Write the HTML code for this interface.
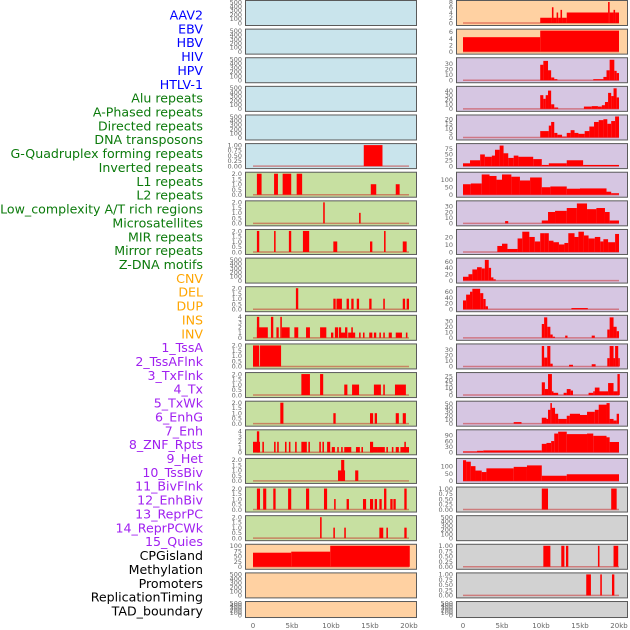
<!DOCTYPE html>
<html><head><meta charset="utf-8"><style>
html,body{margin:0;padding:0;background:#fff;width:630px;height:630px;overflow:hidden}
svg{display:block}
</style></head><body>
<svg id="chart" width="630" height="630" xmlns="http://www.w3.org/2000/svg"></svg>
<script>
const trackLabels = ["AAV2","EBV","HBV","HIV","HPV","HTLV-1","Alu repeats","A-Phased repeats","Directed repeats","DNA transposons","G-Quadruplex forming repeats","Inverted repeats","L1 repeats","L2 repeats","Low_complexity A/T rich regions","Microsatellites","MIR repeats","Mirror repeats","Z-DNA motifs","CNV","DEL","DUP","INS","INV","1_TssA","2_TssAFlnk","3_TxFlnk","4_Tx","5_TxWk","6_EnhG","7_Enh","8_ZNF_Rpts","9_Het","10_TssBiv","11_BivFlnk","12_EnhBiv","13_ReprPC","14_ReprPCWk","15_Quies","CPGisland","Methylation","Promoters","ReplicationTiming","TAD_boundary"];
const labelGroups = [0,0,0,0,0,0,1,1,1,1,1,1,1,1,1,1,1,1,1,2,2,2,2,2,3,3,3,3,3,3,3,3,3,3,3,3,3,3,3,4,4,4,4,4];
const xTickValues = [0,5,10,15,20];
const xTickLabels = ["0","5kb","10kb","15kb","20kb"];
const E = [0,100,200,300,400,500];
const leftTicks = [E,E,E,E,E,[0,0.25,0.5,0.75,1],[0,0.5,1,1.5,2],[0,0.5,1,1.5,2],[0,0.5,1,1.5,2],E,[0,0.5,1,1.5,2],[0,1,2,3,4],[0,0.5,1,1.5,2],[0,0.5,1,1.5,2],[0,0.5,1,1.5,2],[0,1,2,3,4],[0,0.5,1,1.5,2],[0,0.5,1,1.5,2],[0,0.5,1,1.5,2],[0,25,50,75,100],E,E];
const rightTicks = [[0,2,4,6,8],[0,2,4,6],[0,10,20,30],[0,10,20,30,40],[0,5,10,15,20],[0,25,50,75],[0,50,100],[0,10,20,30],[0,10,20],[0,20,40,60],[0,20,40,60],[0,10,20,30],[0,10,20,30],[0,5,10,15,20,25],[0,10,20,30,40,50],[0,30,60,90],[0,50,100],[0,0.25,0.5,0.75,1],E,[0,0.25,0.5,0.75,1],[0,0.25,0.5,0.75,1],E];
const leftMax = [500,500,500,500,500,1,2,2,2,500,2,4,2,2,2,4,2,2,2,100,500,500];
const rightMax = [8,6.4,38,46,23,90,140,37,28,66,72,38,38,28,53,112,142,1,500,1,1,500];
const leftSegs = [[],[],[],[],[],
[[14.2,16.6,1]],
[[0.5,1.1,2],[2.7,3.2,2],[3.8,4.9,2],[5.6,6.3,2],[15.1,15.8,1],[18.3,18.8,1]],
[[9.0,9.2,2],[13.6,13.8,1]],
[[0.5,0.8,2],[2.7,2.9,2],[4.6,4.9,2],[6.4,7.2,2],[10.3,10.8,1],[15.0,15.3,1],[16.8,17.0,2],[19.2,19.7,1]],
[],
[[5.5,5.8,2],[10.3,10.6,1],[10.7,11.4,1],[12.0,12.3,1],[12.6,12.9,1],[13.3,13.6,1],[14.9,15.2,1],[16.7,16.9,1],[19.2,19.5,1],[19.7,20.0,1]],
[[0.5,1.9,2],[0.5,0.8,4],[2.3,2.6,4],[3.0,3.3,2],[3.5,3.7,4],[3.7,4.7,2],[5.3,5.8,2],[6.8,7.3,2],[8.6,9.4,2],[10.0,10.3,1],[10.5,10.9,2],[11.0,11.3,2],[11.2,12.1,1],[11.8,12.1,2],[12.2,13.1,1],[12.6,12.8,2],[13.6,13.8,1],[14.1,14.3,1],[14.9,15.3,1],[15.5,15.8,1],[16.2,16.4,1],[16.7,16.9,1],[17.4,17.8,1],[18.3,19.1,1],[19.6,19.8,1]],
[[0,0.8,2],[0.9,3.6,2]],
[[6.2,7.3,2],[8.6,9.0,2],[11.7,12.1,1],[12.7,13.6,1],[15.5,16.4,1],[16.7,16.9,1],[18.2,19.6,1]],
[[3.5,3.9,2],[10.3,10.6,1],[15.0,15.4,1],[15.6,15.9,1],[18.3,18.7,1],[19.2,19.6,1]],
[[0,0.9,2],[0.5,0.8,4],[1.2,1.4,2],[2.7,2.9,2],[3.1,3.3,2],[4.1,4.3,2],[4.6,4.8,2],[5.4,5.6,2],[6.2,6.9,2],[7.1,7.3,2],[8.5,8.7,2],[8.9,9.1,2],[9.5,9.9,2],[10.1,10.5,1],[10.8,11.0,1],[11.3,11.5,1],[11.7,12.6,1],[13.2,13.7,1],[13.9,14.1,1],[15.0,15.4,2],[15.0,15.9,1],[15.9,16.9,1],[17.1,17.3,1],[17.8,18.0,1],[18.3,18.7,1],[18.9,20.0,1],[19.4,19.6,2]],
[[10.9,11.8,1],[11.3,11.7,2],[13.1,13.5,1]],
[[0.5,0.9,2],[1.3,1.7,2],[2.6,2.9,2],[4.5,4.9,2],[6.8,7.2,2],[9.1,9.5,2],[10.4,10.6,1],[12.0,12.3,1],[14.1,14.5,1],[15.0,15.4,1],[15.6,15.9,1],[16.2,16.5,1],[16.8,17.1,2],[17.6,17.9,1],[18.0,18.3,1],[19.4,19.7,2]],
[[8.6,8.8,2],[10.3,10.5,1],[11.7,11.9,1],[16.2,16.7,1],[17.1,17.3,1],[19.4,19.7,1]],
[[0,4.9,67],[4.9,9.9,72],[9.9,20.1,100]],
[],[]];
const rightSegs = [
[[9.9,11.4,2],[11.4,11.6,6],[11.6,12.0,2],[12.0,12.2,4],[12.2,12.5,2],[12.5,12.7,5],[12.7,13.3,2],[13.3,18.6,4],[18.6,18.8,8],[18.8,19.3,4],[19.3,19.5,5],[19.5,20,4]],
[[0,9.9,4.4],[9.9,20,6.4]],
[[9.9,10.3,28],[10.3,10.9,35],[10.9,11.3,18],[11.3,11.7,5],[11.7,12.1,2],[16.7,18.0,2],[18.0,18.4,6],[18.4,18.8,18],[18.8,19.4,37],[19.4,19.7,17],[19.7,20,13]],
[[9.9,10.3,30],[10.3,10.6,22],[10.6,10.9,30],[10.9,11.3,40],[11.3,11.7,10],[11.7,12.2,3],[15.5,16.5,5],[16.5,17.3,6],[17.3,17.8,5],[17.8,18.2,8],[18.2,18.6,15],[18.6,19.0,35],[19.0,19.3,28],[19.3,19.7,45],[19.7,20,25]],
[[9.9,11.0,7],[11.0,11.3,13],[11.3,11.7,17],[11.7,12.1,5],[12.1,12.7,3],[12.7,13.3,1],[13.3,13.8,5],[13.8,14.3,8],[14.3,14.8,5],[14.8,15.6,4],[15.6,16.2,7],[16.2,16.8,12],[16.8,17.4,17],[17.4,18.0,19],[18.0,18.5,20],[18.5,19.0,15],[19.0,19.5,18],[19.5,20,23]],
[[0,0.9,12],[0.9,2.2,25],[2.2,2.8,50],[2.8,3.7,40],[3.7,4.1,45],[4.1,4.7,70],[4.7,5.2,88],[5.2,5.8,55],[5.8,6.5,35],[6.5,7.1,45],[7.1,9.0,40],[9.0,10.1,30],[10.1,11.0,5],[11.0,13.3,12],[13.3,15.4,25],[15.4,20,5]],
[[0,1.0,70],[1.0,2.4,75],[2.4,3.4,135],[3.4,4.3,125],[4.3,5.0,100],[5.0,6.2,135],[6.2,7.3,120],[7.3,8.6,95],[8.6,10.1,115],[10.1,11.2,50],[11.2,13.3,55],[13.3,15.0,40],[15.0,18.4,42],[18.4,19.0,20],[19.0,20,10]],
[[5.4,5.8,4],[10.1,10.9,5],[10.9,11.8,20],[11.8,13.3,22],[13.3,14.6,27],[14.6,15.9,35],[15.9,17.1,25],[17.1,18.2,27],[18.2,18.8,20],[18.8,20,5]],
[[4.4,5.0,8],[5.0,5.7,11],[5.7,7.0,4],[7.0,7.6,18],[7.6,8.5,27],[8.5,9.2,20],[9.2,9.9,14],[9.9,10.4,25],[10.4,11.0,25],[11.0,11.6,15],[11.6,12.3,13],[12.3,13.0,10],[13.0,13.5,12],[13.5,14.3,25],[14.3,14.8,20],[14.8,15.5,27],[15.5,16.1,22],[16.1,16.9,18],[16.9,17.6,20],[17.6,18.0,14],[18.0,18.6,17],[18.6,19.5,13],[19.5,20,24]],
[[0,0.7,12],[0.7,1.2,20],[1.2,1.8,35],[1.8,2.4,42],[2.4,2.8,38],[2.8,3.3,65],[3.3,3.6,40],[3.6,3.9,10],[3.9,4.2,4]],
[[0,0.4,30],[0.4,0.9,50],[0.9,1.2,60],[1.2,2.2,70],[2.2,2.6,55],[2.6,2.9,35],[2.9,3.2,10],[13.9,16.0,4]],
[[10.1,10.4,25],[10.4,10.8,37],[10.8,11.2,20],[11.2,11.5,6],[11.5,11.8,2],[13.1,13.4,4],[16.5,16.9,4],[18.5,18.8,15],[18.8,19.3,37],[19.3,19.7,20],[19.7,20,12]],
[[10.1,10.4,37],[10.4,10.8,16],[10.8,11.2,37],[11.2,11.5,5],[13.6,14.1,3],[16.5,17.0,4],[18.5,18.8,15],[18.8,19.3,37],[19.3,19.5,15],[19.5,19.9,37],[19.9,20.1,15]],
[[10.1,10.5,17],[10.5,10.9,8],[10.9,11.4,28],[11.4,11.6,5],[11.6,12.2,3],[12.9,13.3,3],[13.3,13.8,8],[13.8,14.1,6],[16.1,16.7,3],[16.7,16.9,5],[16.9,17.5,10],[17.5,18.6,5],[18.6,19.3,16],[19.3,19.8,5],[19.8,20.1,28]],
[[6.5,7.5,4],[10.1,10.7,15],[10.7,10.9,12],[10.9,11.2,35],[11.2,11.4,52],[11.4,11.8,40],[11.8,12.2,25],[12.2,13.3,12],[13.3,13.7,20],[13.7,15.0,25],[15.0,15.9,22],[15.9,16.9,30],[16.9,17.4,35],[17.4,18.4,48],[18.4,18.8,52],[18.8,19.3,12],[19.3,19.7,8],[19.7,20,25]],
[[0,1.8,5],[1.8,2.6,8],[2.6,10.1,10],[10.1,10.7,45],[10.7,11.3,50],[11.3,11.7,60],[11.7,12.2,100],[12.2,13.3,110],[13.3,15.9,97],[15.9,16.7,100],[16.7,18.4,88],[18.4,18.8,80],[18.8,20,55]],
[[0,0.4,140],[0.4,1.0,130],[1.0,1.6,100],[1.6,2.4,70],[2.4,3.0,60],[3.0,6.5,85],[6.5,8.2,95],[8.2,10.1,105],[10.1,13.3,35],[13.3,20,45]],
[[10.1,10.9,1],[19.0,19.7,1]],
[],
[[10.3,11.2,1],[12.6,13.0,1],[13.2,13.5,1],[17.3,17.5,1],[19.3,19.9,1]],
[[15.8,16.4,1],[17.6,17.8,1],[19.1,19.4,1]],
[]];
const leftBgGroup = [0,0,0,0,0,0,1,1,1,1,1,1,1,1,1,1,1,1,1,2,2,2];
const rightBgGroup = [2,2,3,3,3,3,3,3,3,3,3,3,3,3,3,3,3,4,4,4,4,4];

const NS="http://www.w3.org/2000/svg";
const svg=document.getElementById('chart');
const bgColors=["#c9e4ec","#c7e0a1","#ffd1a2","#d6c6e2","#d2d2d2"];
const labelColors=["#0000ff","#0b7a0b","#ffa500","#a020f0","#000000"];
function mk(tag,attrs,parent){const e=document.createElementNS(NS,tag);for(const k in attrs)e.setAttribute(k,attrs[k]);(parent||svg).appendChild(e);return e;}
const rowTop=r=>r*28.62;
const rowH=r=>r===21?16:25;
function xScale(col,kb){return (col===0?253:463)+kb*7.8;}
function yScale(r,v,max){const t=rowTop(r),h=rowH(r);return t+h-2-(v/max)*(h-4);}
function fmt(ticks,v){if(ticks.length===5&&ticks[4]===1)return v.toFixed(2);if(ticks[ticks.length-1]===2)return v.toFixed(1);return String(v);}

// labels
trackLabels.forEach((t,i)=>{
  const el=mk('text',{x:203,y:15+i*13.86+4.5,'text-anchor':'end','font-family':'DejaVu Sans, Liberation Sans, sans-serif','font-size':'12.6',fill:labelColors[labelGroups[i]]});
  el.textContent=t;
  
  
});

function drawPanel(col,r,segs,ticks,max,bg){
  const x0=col===0?245:456, w=171, t=rowTop(r), h=rowH(r);
  const g=mk('g',{});
  
  
  const rect=mk('rect',{x:x0+0.5,y:t+0.5,width:w,height:h,fill:bgColors[bg],stroke:'#5a5a5a','stroke-width':1},g);
  
  
  if(segs.length){
    const base=mk('line',{x1:xScale(col,0),x2:xScale(col,20),y1:t+h-2,y2:t+h-2,stroke:'rgba(200,20,20,0.45)','stroke-width':1.5},g);
    
    
  }
  segs.forEach(s=>{
    const xa=xScale(col,s[0]),xb=xScale(col,s[1]),y=yScale(r,s[2],max);
    const b=mk('rect',{x:xa,y:y,width:Math.max(1,xb-xa),height:t+h-2-y,fill:'#ff0000'},g);
    
    
  });
  const tx=x0-3;
  ticks.forEach(v=>{
    const y=yScale(r,v,max);
    const tl=mk('text',{x:tx,y:y+2.3,'text-anchor':'end','font-family':'DejaVu Sans, Liberation Sans, sans-serif','font-size':'6.5',fill:'#666'},g);
    tl.textContent=fmt(ticks,v);
    
    
  });
}
for(let r=0;r<22;r++){
  drawPanel(0,r,leftSegs[r],leftTicks[r],leftMax[r],leftBgGroup[r]);
  drawPanel(1,r,rightSegs[r],rightTicks[r],rightMax[r],rightBgGroup[r]);
}
[0,1].forEach(col=>{
  xTickValues.forEach((v,i)=>{
    const el=mk('text',{x:xScale(col,v),y:628,'text-anchor':'middle','font-family':'DejaVu Sans, Liberation Sans, sans-serif','font-size':'7',fill:'#666'});
    el.textContent=xTickLabels[i];
    
    
  });
});
</script>
</body></html>
